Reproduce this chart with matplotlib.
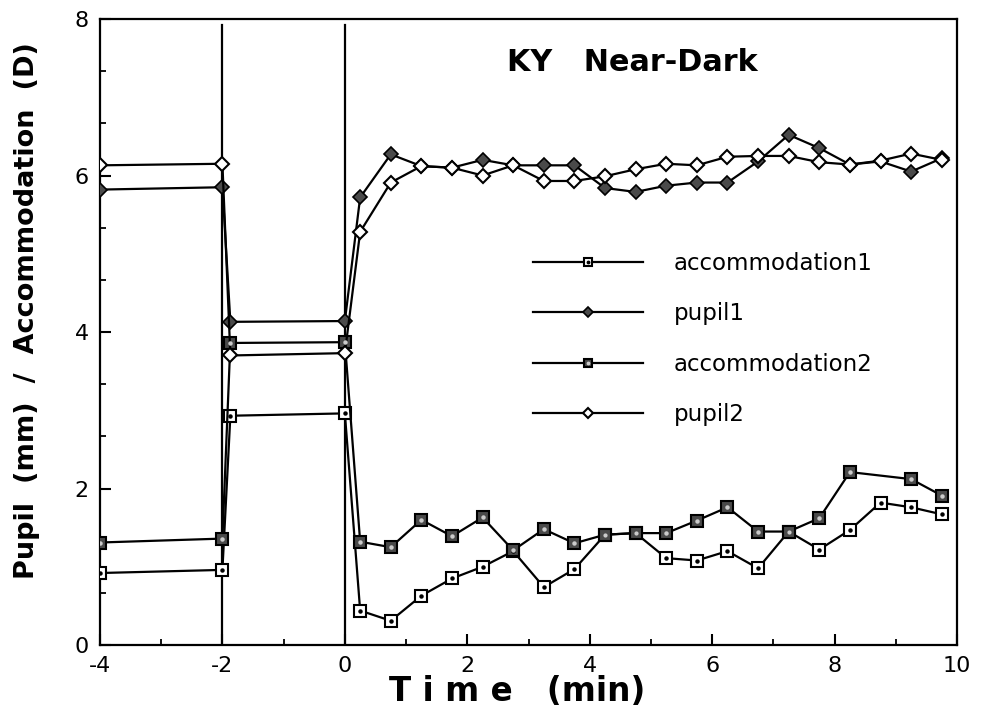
import matplotlib
matplotlib.use("Agg")
import matplotlib.pyplot as plt
from matplotlib.ticker import MultipleLocator, FixedLocator, FixedFormatter
from matplotlib.legend_handler import HandlerTuple

# time axis (min): baseline, dark onset, near-target period
t_pre = [-4.0, -2.0, -1.87, 0.0]
t_post = [0.25, 0.75, 1.25, 1.75, 2.25, 2.75, 3.25, 3.75, 4.25, 4.75,
          5.25, 5.75, 6.25, 6.75, 7.25, 7.75, 8.25, 8.75, 9.25, 9.75]
t_post_acc2 = [0.25, 0.75, 1.25, 1.75, 2.25, 2.75, 3.25, 3.75, 4.25, 4.75,
               5.25, 5.75, 6.25, 6.75, 7.25, 7.75, 8.25, 9.25, 9.75]

accommodation1 = [0.92, 0.96, 2.93, 2.96,
                  0.44, 0.31, 0.63, 0.85, 1.00, 1.20, 0.74, 0.97, 1.41, 1.43,
                  1.11, 1.08, 1.20, 0.98, 1.45, 1.22, 1.47, 1.82, 1.76, 1.67]
pupil1 = [5.82, 5.85, 4.13, 4.14,
          5.72, 6.27, 6.12, 6.10, 6.20, 6.13, 6.13, 6.13, 5.84, 5.79,
          5.87, 5.91, 5.91, 6.18, 6.52, 6.35, 6.14, 6.18, 6.05, 6.22]
accommodation2 = [1.31, 1.36, 3.86, 3.87,
                  1.32, 1.25, 1.60, 1.39, 1.63, 1.21, 1.48, 1.30, 1.41, 1.43,
                  1.43, 1.59, 1.76, 1.45, 1.45, 1.62, 2.21, 2.12, 1.91]
pupil2 = [6.13, 6.15, 3.70, 3.73,
          5.28, 5.91, 6.12, 6.10, 6.00, 6.13, 5.93, 5.93, 5.99, 6.08,
          6.15, 6.13, 6.24, 6.25, 6.25, 6.17, 6.14, 6.19, 6.28, 6.20]

series_labels = ["accommodation1", "pupil1", "accommodation2", "pupil2"]
x_ticks = [-4, -2, 0, 2, 4, 6, 8, 10]
x_tick_labels = ["-4", "-2", "0", "2", "4", "6", "8", "10"]
y_ticks = [0, 2, 4, 6, 8]
y_tick_labels = ["0", "2", "4", "6", "8"]
phase_boundaries = [-2, 0]

fig = plt.figure(figsize=(9.84, 7.17), dpi=100)
ax = fig.add_axes([0.1016, 0.1004, 0.8710, 0.8731])

for xb in phase_boundaries:
    ax.axvline(xb, ymin=0, ymax=0.99, color="black", lw=1.6, zorder=1)

lw = 1.6
t_all = t_pre + t_post
t_all2 = t_pre + t_post_acc2

l_a1, = ax.plot(t_all, accommodation1, color="black", lw=lw, marker="s", ms=8,
                mfc="white", mec="black", mew=1.5, zorder=3)
d_a1, = ax.plot(t_all, accommodation1, ls="none", marker="o", ms=2.2,
                mfc="black", mec="black", zorder=4)
l_p1, = ax.plot(t_all, pupil1, color="black", lw=lw, marker="D", ms=7,
                mfc="#4a4a4a", mec="black", mew=1.2, zorder=3)
l_a2, = ax.plot(t_all2, accommodation2, color="black", lw=lw, marker="s", ms=8,
                mfc="#4a4a4a", mec="black", mew=1.5, zorder=3)
d_a2, = ax.plot(t_all2, accommodation2, ls="none", marker="o", ms=2.2,
                mfc="#cccccc", mec="#cccccc", zorder=4)
l_p2, = ax.plot(t_all, pupil2, color="black", lw=lw, marker="D", ms=7,
                mfc="white", mec="black", mew=1.5, zorder=3)

ax.set_xlim(-4, 10)
ax.set_ylim(0, 8)

ax.xaxis.set_major_locator(FixedLocator(x_ticks))
ax.xaxis.set_major_formatter(FixedFormatter(x_tick_labels))
ax.xaxis.set_minor_locator(MultipleLocator(1))
ax.yaxis.set_major_locator(FixedLocator(y_ticks))
ax.yaxis.set_major_formatter(FixedFormatter(y_tick_labels))
ax.yaxis.set_minor_locator(MultipleLocator(2 / 3))

ax.tick_params(which="major", direction="in", length=8, width=1.5,
               labelsize=16, pad=8, top=False, right=False)
ax.tick_params(which="minor", direction="in", length=4, width=1.3,
               top=False, right=False)
for s in ax.spines.values():
    s.set_linewidth(1.6)

ax.text(0.487, -0.075, "T i m e   (min)", transform=ax.transAxes,
        ha="center", va="center", fontsize=23.5, fontweight="bold")
ax.text(-0.085, 0.535, "Pupil  (mm)  /  Accommodation  (D)", transform=ax.transAxes,
        ha="center", va="center", rotation=90, fontsize=19.5, fontweight="bold")
ax.text(2.65, 7.45, "KY   Near-Dark", ha="left", va="center",
        fontsize=21.8, fontweight="bold")

leg = ax.legend([(l_a1, d_a1), l_p1, (l_a2, d_a2), l_p2], series_labels,
                handler_map={tuple: HandlerTuple(ndivide=1)},
                loc="upper left", bbox_to_anchor=(0.505, 0.628),
                frameon=False, fontsize=16.5, handlelength=4.8, handletextpad=1.35,
                labelspacing=1.2, numpoints=1, borderpad=0, borderaxespad=0,
                markerscale=0.8)

fig.savefig("out.png", dpi=100)
